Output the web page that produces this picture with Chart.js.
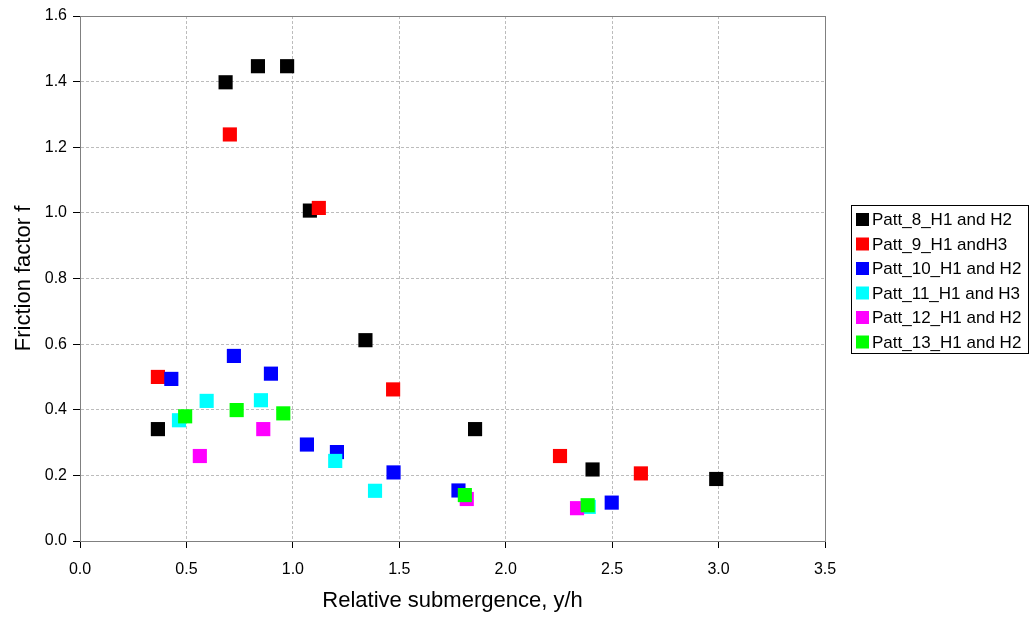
<!DOCTYPE html>
<html>
<head>
  <meta charset="UTF-8">
  <title>Friction factor vs relative submergence</title>
  <script src="https://cdn.jsdelivr.net/npm/chart.js"></script>
  <style>
    body { margin: 0; background: #fff; }
    #wrap { width: 1036px; height: 617px; }
  </style>
</head>
<body>
  <div id="wrap"><canvas id="frictionChart" width="1036" height="617"></canvas></div>

  <script>
    // series labels + colours
    const seriesNames = ['Patt_8_H1 and H2', 'Patt_9_H1 andH3', 'Patt_10_H1 and H2',
                         'Patt_11_H1 and H3', 'Patt_12_H1 and H2', 'Patt_13_H1 and H2'];
    const seriesColors = ['#000000', '#ff0000', '#0000ff', '#00ffff', '#ff00ff', '#00ff00'];

    // [y/h, f]
    const patt8  = [[0.366, 0.341], [0.684, 1.398], [0.836, 1.447], [0.973, 1.447], [1.080, 1.007],
                    [1.341, 0.612], [1.856, 0.341], [2.408, 0.218], [2.989, 0.189]];
    const patt9  = [[0.366, 0.500], [0.704, 1.239], [1.122, 1.015], [1.471, 0.462], [2.255, 0.259],
                    [2.635, 0.206]];
    const patt10 = [[0.429, 0.494], [0.723, 0.564], [0.897, 0.510], [1.066, 0.294], [1.207, 0.271],
                    [1.473, 0.209], [1.778, 0.154], [2.498, 0.117]];
    const patt11 = [[0.465, 0.368], [0.595, 0.427], [0.850, 0.429], [1.199, 0.244], [1.386, 0.153],
                    [2.390, 0.104]];
    const patt12 = [[0.563, 0.259], [0.861, 0.341], [1.817, 0.128], [2.335, 0.100]];
    const patt13 = [[0.494, 0.380], [0.736, 0.399], [0.955, 0.389], [1.808, 0.140], [2.385, 0.109]];

    const allSeries = [patt8, patt9, patt10, patt11, patt12, patt13];

    const xTicks = [0, 0.5, 1.0, 1.5, 2.0, 2.5, 3.0, 3.5];
    const yTicks = [0, 0.2, 0.4, 0.6, 0.8, 1.0, 1.2, 1.4, 1.6];

    const FONT = '"Liberation Sans", Arial, sans-serif';

    // gray frame round the plot area (top/right stay gray, axes draw over left/bottom)
    const frame = {
      id: 'frame',
      beforeDatasetsDraw(chart) {
        const { ctx, chartArea: a } = chart;
        ctx.save();
        ctx.strokeStyle = '#808080';
        ctx.lineWidth = 1;
        ctx.strokeRect(a.left + 0.5, a.top + 0.5, a.right - a.left, a.bottom - a.top);
        ctx.restore();
      }
    };

    // boxed legend to the right, like the excel one
    const boxLegend = {
      id: 'boxLegend',
      afterDraw(chart) {
        const ctx = chart.ctx;
        const left = 851, top = 205, w = 177, h = 148;
        const rowStart = 219.5, rowGap = 24.5;
        ctx.save();
        ctx.strokeStyle = '#000';
        ctx.lineWidth = 1;
        ctx.strokeRect(left + 0.5, top + 0.5, w, h);
        ctx.font = '17px ' + FONT;
        ctx.textBaseline = 'middle';
        chart.data.datasets.forEach((ds, i) => {
          const y = rowStart + i * rowGap;
          ctx.fillStyle = ds.backgroundColor;
          ctx.fillRect(856, y - 6.5, 13, 13);
          ctx.fillStyle = '#000';
          ctx.fillText(ds.label, 872, y + 1);
        });
        ctx.restore();
      }
    };

    // later series sit on top of earlier ones, as in the excel plot
    const datasets = allSeries.map((pts, i) => ({
      label: seriesNames[i],
      data: pts.map(p => ({ x: p[0], y: p[1] })),
      order: allSeries.length - i,
      backgroundColor: seriesColors[i],
      borderColor: seriesColors[i],
      borderWidth: 0,
      pointStyle: 'rect',
      pointRadius: 10,
      pointHoverRadius: 10
    }));

    new Chart(document.getElementById('frictionChart'), {
      type: 'scatter',
      data: { datasets },
      plugins: [frame, boxLegend],
      options: {
        responsive: false,
        animation: false,
        layout: { padding: { left: 0, right: 211, top: 16, bottom: 0 } },
        plugins: { legend: { display: false }, tooltip: { enabled: false } },
        scales: {
          x: {
            type: 'linear',
            min: 0, max: 3.5,
            afterBuildTicks: s => { s.ticks = xTicks.map(v => ({ value: v })); },
            afterFit: s => { s.height = 76; },
            ticks: {
              color: '#000',
              font: { family: FONT, size: 16 },
              padding: 12,
              callback: v => v.toFixed(1)
            },
            grid: { color: '#bcbcbc', tickColor: '#000', tickLength: 7, tickBorderDash: [] },
            border: { color: '#000', width: 1, dash: [3, 2] },
            title: {
              display: true,
              text: 'Relative submergence, y/h',
              color: '#000',
              font: { family: FONT, size: 22 },
              padding: { top: 0, bottom: 3 }
            }
          },
          y: {
            type: 'linear',
            min: 0, max: 1.6,
            afterBuildTicks: s => { s.ticks = yTicks.map(v => ({ value: v })); },
            afterFit: s => { s.width = 80; },
            ticks: {
              color: '#000',
              font: { family: FONT, size: 16 },
              padding: 6,
              callback: v => v.toFixed(1)
            },
            grid: { color: '#bcbcbc', tickColor: '#000', tickLength: 7, tickBorderDash: [] },
            border: { color: '#000', width: 1, dash: [3, 2] },
            title: {
              display: true,
              text: 'Friction factor f',
              color: '#000',
              font: { family: FONT, size: 22 },
              padding: { top: 11, bottom: 0 }
            }
          }
        }
      }
    });
  </script>
</body>
</html>
